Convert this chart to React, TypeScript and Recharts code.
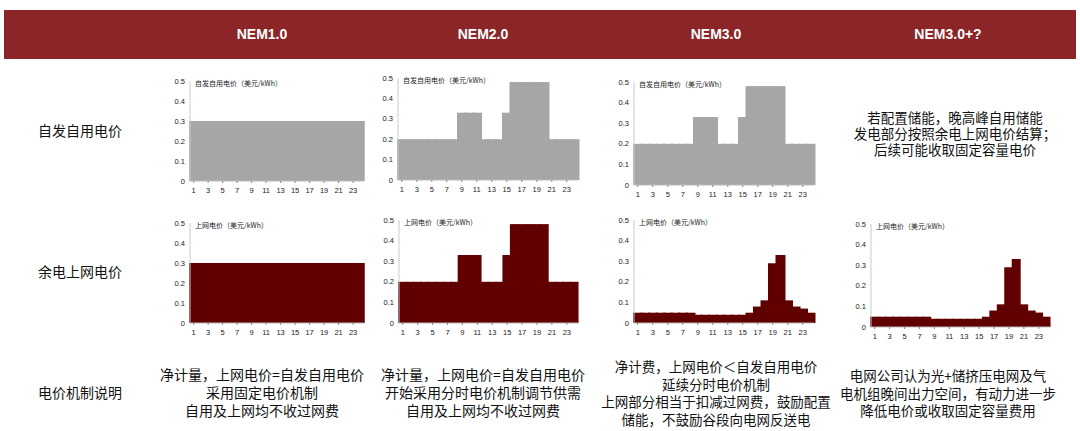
import React from 'react';
import { BarChart, Bar, XAxis, YAxis } from 'recharts';

const hours = ['1', '2', '3', '4', '5', '6', '7', '8', '9', '10', '11', '12', '13', '14', '15', '16', '17', '18', '19', '20', '21', '22', '23', '24'];

// NEM1.0: flat price, self-use = export
const nem1Flat = [0.3, 0.3, 0.3, 0.3, 0.3, 0.3, 0.3, 0.3, 0.3, 0.3, 0.3, 0.3, 0.3, 0.3, 0.3, 0.3, 0.3, 0.3, 0.3, 0.3, 0.3, 0.3, 0.3, 0.3];
// time-of-use retail price (NEM2.0 both, NEM3.0 self-use)
const touPrice = [0.2, 0.2, 0.2, 0.2, 0.2, 0.2, 0.2, 0.2, 0.33, 0.33, 0.33, 0.2, 0.2, 0.2, 0.33, 0.48, 0.48, 0.48, 0.48, 0.48, 0.2, 0.2, 0.2, 0.2];
// NEM3.0 export price
const nem3Export = [0.05, 0.05, 0.05, 0.05, 0.05, 0.05, 0.05, 0.05, 0.04, 0.04, 0.04, 0.04, 0.04, 0.04, 0.04, 0.05, 0.08, 0.11, 0.29, 0.33, 0.11, 0.08, 0.07, 0.05];
const nem3PlusExport = [0.05, 0.05, 0.05, 0.05, 0.05, 0.05, 0.05, 0.05, 0.04, 0.04, 0.04, 0.04, 0.04, 0.04, 0.04, 0.05, 0.08, 0.11, 0.29, 0.33, 0.11, 0.08, 0.07, 0.05];

const yTicks = [0, 0.1, 0.2, 0.3, 0.4, 0.5];
const headers = ['NEM1.0', 'NEM2.0', 'NEM3.0', 'NEM3.0+?'];
const rowLabels = ['自发自用电价', '余电上网电价', '电价机制说明'];
const selfTitle = '自发自用电价（美元/kWh）';
const exportTitle = '上网电价（美元/kWh）';
const nem3PlusNote = ['若配置储能，晚高峰自用储能', '发电部分按照余电上网电价结算；', '后续可能收取固定容量电价'];
const notes = [
  ['净计量，上网电价=自发自用电价', '采用固定电价机制', '自用及上网均不收过网费'],
  ['净计量，上网电价=自发自用电价', '开始采用分时电价机制调节供需', '自用及上网均不收过网费'],
  ['净计费，上网电价＜自发自用电价', '延续分时电价机制', '上网部分相当于扣减过网费，鼓励配置', '储能，不鼓励谷段向电网反送电'],
  ['电网公司认为光+储挤压电网及气', '电机组晚间出力空间，有动力进一步', '降低电价或收取固定容量费用'],
];

const GREY = '#a6a6a6';
const DARK_RED = '#600000';
const CJK = '"Noto Sans CJK SC", "Noto Sans", sans-serif';

const build = (vals: number[]) => hours.map((h, i) => ({ hour: h, price: vals[i] }));

interface MiniProps {
  values: number[];
  color: string;
  title: string;
  x0: number;
  x1: number;
  yTop: number;
  yBot: number;
}

const YW = 30;
const MT = 4;
const XH = 17;

const MiniChart: React.FC<MiniProps> = ({ values, color, title, x0, x1, yTop, yBot }) => {
  const tick = { fontSize: 7.5, fill: '#222', fontFamily: 'Liberation Sans, Arial, sans-serif' };
  // widen each bar a little so neighbours overlap and no seams show (step look)
  const stepShape = (p: any) => (
    <rect x={p.x - 1} y={p.y} width={p.width + 2} height={p.height} fill={color} />
  );
  return (
    <>
      <div style={{ position: 'absolute', left: x0 - YW, top: yTop - MT }}>
        <BarChart
          width={x1 - x0 + YW + 2}
          height={yBot - yTop + MT + XH}
          data={build(values)}
          margin={{ top: MT, right: 2, bottom: 0, left: 0 }}
          barCategoryGap={0}
          barGap={0}
        >
          <XAxis
            dataKey="hour"
            interval={1}
            height={XH}
            tick={tick}
            tickSize={2}
            tickMargin={5}
            tickLine={{ stroke: '#888' }}
            axisLine={{ stroke: '#bbb' }}
          />
          <YAxis
            width={YW}
            domain={[0, 0.5]}
            ticks={yTicks}
            tick={tick}
            tickLine={false}
            tickSize={3}
            axisLine={{ stroke: '#ccc' }}
          />
          <Bar dataKey="price" fill={color} shape={stepShape} isAnimationActive={false} />
        </BarChart>
      </div>
      <div
        style={{
          position: 'absolute',
          left: x0 + 5,
          top: yTop - 3,
          height: 10,
          lineHeight: '10px',
          fontSize: 7,
          fontFamily: CJK,
          color: '#222',
          whiteSpace: 'nowrap',
        }}
      >
        {title}
      </div>
    </>
  );
};

const TextBlock: React.FC<{ lines: string[]; cx: number; top: number; lh: number; w?: number; fs?: number }> = ({ lines, cx, top, lh, w = 280, fs = 14 }) => (
  <div
    style={{
      position: 'absolute',
      left: cx - w / 2,
      top,
      width: w,
      textAlign: 'center',
      fontSize: fs,
      lineHeight: `${lh}px`,
      fontFamily: CJK,
      color: '#111',
      whiteSpace: 'nowrap',
    }}
  >
    {lines.map((l, i) => (
      <div key={i} style={{ height: lh }}>{l}</div>
    ))}
  </div>
);

const headerX = [262, 483, 716, 948];

export default function App() {
  return (
    <div style={{ position: 'absolute', left: 0, top: 0, width: 1080, height: 431, background: '#fff', overflow: 'hidden' }}>
      <div style={{ position: 'absolute', left: 4, top: 10, width: 1072, height: 49, background: '#8b2527' }} />
      {headers.map((h, i) => (
        <div
          key={h}
          style={{
            position: 'absolute',
            left: headerX[i] - 60,
            width: 120,
            top: 25,
            lineHeight: '18px',
            textAlign: 'center',
            color: '#fff',
            fontWeight: 'bold',
            fontSize: 14,
            fontFamily: 'Liberation Sans, Arial, sans-serif',
          }}
        >
          {h}
        </div>
      ))}

      <TextBlock lines={[rowLabels[0]]} cx={80} top={120} lh={20} w={150} />
      <TextBlock lines={[rowLabels[1]]} cx={80} top={261} lh={20} w={150} />
      <TextBlock lines={[rowLabels[2]]} cx={80} top={382} lh={20} w={150} />

      <MiniChart values={nem1Flat} color={GREY} title={selfTitle} x0={190} x1={364} yTop={81} yBot={181} />
      <MiniChart values={touPrice} color={GREY} title={selfTitle} x0={398} x1={578} yTop={78} yBot={180} />
      <MiniChart values={touPrice} color={GREY} title={selfTitle} x0={634} x1={814} yTop={82} yBot={185} />

      <MiniChart values={nem1Flat} color={DARK_RED} title={exportTitle} x0={190} x1={364} yTop={223} yBot={323} />
      <MiniChart values={touPrice} color={DARK_RED} title={exportTitle} x0={399} x1={578} yTop={220} yBot={323} />
      <MiniChart values={nem3Export} color={DARK_RED} title={exportTitle} x0={634} x1={814} yTop={220} yBot={323} />
      <MiniChart values={nem3PlusExport} color={DARK_RED} title={exportTitle} x0={871} x1={1050} yTop={224} yBot={327} />

      <TextBlock lines={nem3PlusNote} cx={955} top={109} lh={16} fs={13.5} />

      <TextBlock lines={notes[0]} cx={262} top={365} lh={18} />
      <TextBlock lines={notes[1]} cx={483} top={365} lh={18} />
      <TextBlock lines={notes[2]} cx={716} top={358} lh={17.5} fs={13.5} />
      <TextBlock lines={notes[3]} cx={948} top={367} lh={17.5} fs={13.5} />
    </div>
  );
}
